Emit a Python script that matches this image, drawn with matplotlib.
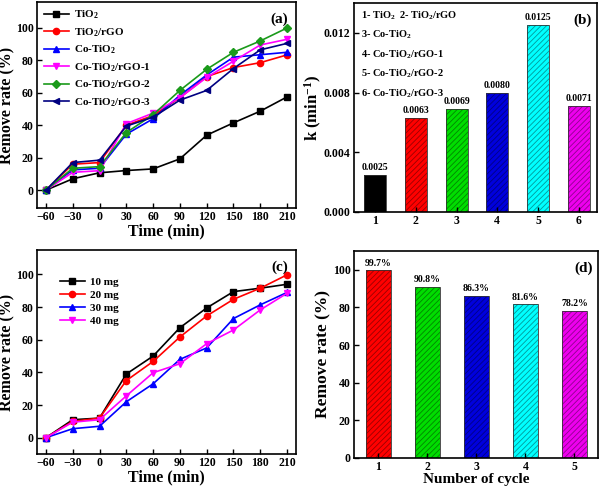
import matplotlib
matplotlib.use("Agg")
import matplotlib.pyplot as plt
import matplotlib.colors as mcolors
import numpy as np

plt.rcParams['font.family'] = ['Liberation Serif', 'DejaVu Serif']
plt.rcParams['font.weight'] = 'bold'
plt.rcParams['mathtext.fontset'] = 'custom'
plt.rcParams['mathtext.rm'] = 'Liberation Serif:bold'
plt.rcParams['mathtext.default'] = 'rm'
plt.rcParams['hatch.linewidth'] = 0.6

# panel (a) data
time = [-60, -30, 0, 30, 60, 90, 120, 150, 180, 210]
a_names = ["TiO$_2$", "TiO$_2$/rGO", "Co-TiO$_2$", "Co-TiO$_2$/rGO-1",
           "Co-TiO$_2$/rGO-2", "Co-TiO$_2$/rGO-3"]
tio2 = [0, 7.0, 10.7, 12.1, 13.1, 19.3, 33.9, 41.5, 48.7, 57.5]
tio2_rgo = [0, 16.0, 17.0, 40.0, 46.0, 57.0, 70.0, 75.6, 78.6, 83.4]
co_tio2 = [0, 12.5, 13.5, 34.5, 44.0, 58.5, 71.0, 82.0, 83.5, 85.0]
co_rgo1 = [0, 11.0, 12.0, 41.0, 47.5, 57.0, 69.5, 79.5, 89.5, 93.0]
co_rgo2 = [0, 13.5, 14.5, 35.5, 46.5, 61.5, 74.5, 85.0, 92.0, 100.0]
co_rgo3 = [0, 17.0, 18.5, 39.5, 45.0, 55.5, 61.5, 75.0, 86.5, 90.5]

# panel (b) data
k_idx = [1, 2, 3, 4, 5, 6]
k_vals = [0.0025, 0.0063, 0.0069, 0.0080, 0.0125, 0.0071]
k_text = ["0.0025", "0.0063", "0.0069", "0.0080", "0.0125", "0.0071"]
b_notes = ["1- TiO$_2$  2- TiO$_2$/rGO", "3- Co-TiO$_2$", "4- Co-TiO$_2$/rGO-1",
           "5- Co-TiO$_2$/rGO-2", "6- Co-TiO$_2$/rGO-3"]

# panel (c) data
c_names = ["10 mg", "20 mg", "30 mg", "40 mg"]
mg10 = [0, 11.0, 12.0, 39.0, 50.0, 67.4, 79.5, 89.5, 91.6, 94.0]
mg20 = [0, 10.0, 12.0, 35.0, 46.7, 61.7, 74.6, 84.8, 91.6, 99.8]
mg30 = [0, 5.5, 7.0, 22.0, 33.0, 48.0, 55.0, 73.0, 81.4, 89.0]
mg40 = [0, 9.5, 11.0, 25.6, 39.8, 45.3, 57.6, 66.0, 78.3, 88.5]

# panel (d) data
cycles = [1, 2, 3, 4, 5]
cycle_vals = [99.7, 90.8, 86.3, 81.6, 78.2]

colors_a = ['black', 'red', 'blue', '#ff00ff', '#1a9a1a', '#000080']
markers_a = ['s', 'o', '^', 'v', 'D', '<']
colors_b = ['black', '#ff0000', '#00dd00', '#0000dd', '#00ffff', '#ee00ee']
colors_c = ['black', 'red', 'blue', '#ff00ff']
colors_d = ['#ff0000', '#00dd00', '#0000dd', '#00ffff', '#ee00ee']

fig = plt.figure(figsize=(6.03, 4.91), dpi=100)
W, H = 603, 491


def add_ax(l, t, r, b):
    return fig.add_axes([l / W, 1 - b / H, (r - l) / W, (b - t) / H])


def style(ax):
    for s in ax.spines.values():
        s.set_linewidth(1.2)
    ax.tick_params(direction='in', labelsize=8.5, width=1.0, length=3.5, pad=2.5)


def hatched_bars(ax, x, vals, cols, width):
    for xi, v, c in zip(x, vals, cols):
        dark = np.array(mcolors.to_rgb(c)) * 0.6
        ax.bar(xi, v, width, color=c, edgecolor=dark, hatch='//////', linewidth=0)
        ax.bar(xi, v, width, fill=False, edgecolor='#333333', linewidth=0.6)


# (a)
ax = add_ax(37, 2, 296, 208)
for ys, name, c, m in zip([tio2, tio2_rgo, co_tio2, co_rgo1, co_rgo2, co_rgo3],
                          a_names, colors_a, markers_a):
    ax.plot(time, ys, color=c, marker=m, markersize=4.5 if m != 'D' else 4,
            linewidth=1.2, label=name)
ax.set_xlim(-70, 220)
ax.set_ylim(-11, 116)
ax.set_xticks(time)
ax.set_yticks([0, 20, 40, 60, 80, 100])
ax.set_xlabel("Time (min)", fontsize=11.5, fontweight='bold', labelpad=0)
ax.set_ylabel("Remove rate (%)", fontsize=11.5, fontweight='bold', labelpad=0)
style(ax)
ax.legend(loc='upper left', frameon=False, fontsize=8, handlelength=2.3,
          borderaxespad=0.2, labelspacing=0.45, handletextpad=0.4)
ax.text(0.97, 0.95, "(a)", transform=ax.transAxes, ha='right', va='top',
        fontsize=11, fontweight='bold')

# (b)
ax = add_ax(354, 3, 597, 212)
hatched_bars(ax, k_idx, k_vals, colors_b, 0.54)
for xi, v, t in zip(k_idx, k_vals, k_text):
    ax.text(xi, v + 0.0002, t, ha='center', va='bottom', fontsize=7, fontweight='bold')
ax.set_xlim(0.48, 6.45)
ax.set_ylim(0, 0.014)
ax.set_xticks(k_idx)
ax.set_yticks([0.000, 0.004, 0.008, 0.012])
ax.set_yticklabels(["0.000", "0.004", "0.008", "0.012"])
ax.set_ylabel("k (min$^{-1}$)", fontsize=12, fontweight='bold', labelpad=0)
style(ax)
for i, t in enumerate(b_notes):
    ax.text(0.03, 0.97 - i * 0.093, t, transform=ax.transAxes, ha='left', va='top',
            fontsize=7.5, fontweight='bold')
ax.text(0.98, 0.95, "(b)", transform=ax.transAxes, ha='right', va='top',
        fontsize=11, fontweight='bold')

# (c)
ax = add_ax(37, 250, 296, 454)
for ys, name, c, m in zip([mg10, mg20, mg30, mg40], c_names, colors_c, markers_a):
    ax.plot(time, ys, color=c, marker=m, markersize=4.5, linewidth=1.2, label=name)
ax.set_xlim(-70, 220)
ax.set_ylim(-10, 115)
ax.set_xticks(time)
ax.set_yticks([0, 20, 40, 60, 80, 100])
ax.set_xlabel("Time (min)", fontsize=11.5, fontweight='bold', labelpad=0)
ax.set_ylabel("Remove rate (%)", fontsize=11.5, fontweight='bold', labelpad=0)
style(ax)
ax.legend(loc='upper left', bbox_to_anchor=(0.07, 0.89), frameon=False, fontsize=8,
          handlelength=2.3, labelspacing=0.3, handletextpad=0.4, borderaxespad=0)
ax.text(0.97, 0.95, "(c)", transform=ax.transAxes, ha='right', va='top',
        fontsize=11, fontweight='bold')

# (d)
ax = add_ax(354, 251, 598, 458)
hatched_bars(ax, cycles, cycle_vals, colors_d, 0.5)
for xi, v in zip(cycles, cycle_vals):
    ax.text(xi, v + 1.5, f"{v:.1f}%", ha='center', va='bottom', fontsize=7, fontweight='bold')
ax.set_xlim(0.5, 5.48)
ax.set_ylim(0, 110)
ax.set_xticks(cycles)
ax.set_yticks([0, 20, 40, 60, 80, 100])
ax.set_xlabel("Number of cycle", fontsize=11, fontweight='bold', labelpad=0)
ax.set_ylabel("Remove rate (%)", fontsize=12.5, fontweight='bold', labelpad=1)
style(ax)
ax.text(0.98, 0.95, "(d)", transform=ax.transAxes, ha='right', va='top',
        fontsize=11, fontweight='bold')

fig.savefig("out.png", dpi=100)
